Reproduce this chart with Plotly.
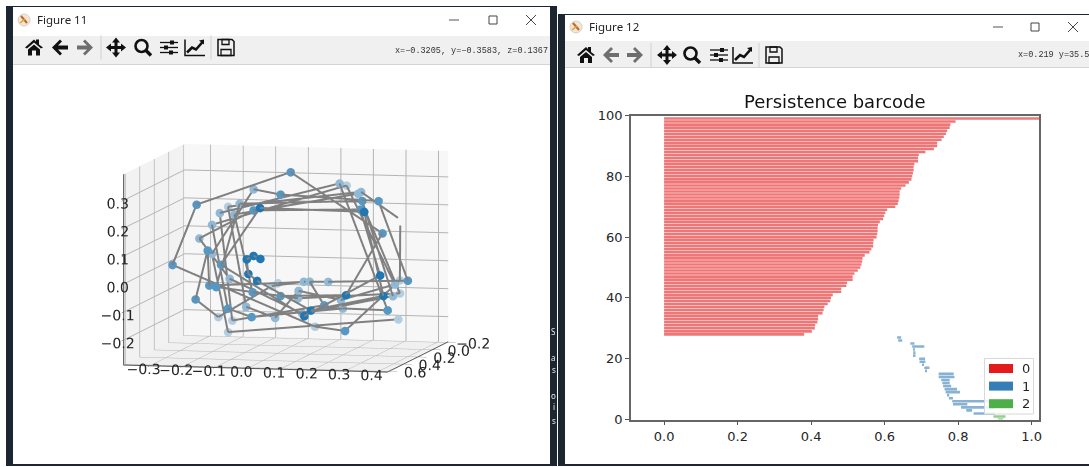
import plotly.graph_objects as go

W, H = 1089, 467

# ---- point cloud of Figure 11 (time-delay embedding, path order)
cloud_x = [0.013,-0.008,-0.029,-0.024,0.003,0.168,0.391,0.332,0.012,-0.157,0.148,0.381,0.271,-0.057,-0.275,-0.182,0.041,0.32,0.277,-0.151,-0.172,0.028,0.308,0.213,-0.167,-0.06,0.026,0.276,0.339,0.057,
           -0.232,-0.306,0.047,0.224,0.308,0.443,0.222,-0.22,-0.131,-0.042,0.03,0.16,0.326,0.144,-0.236,-0.136,-0.063,0.166,0.355,0.156,-0.212,-0.207,0.16,0.064,-0.067,-0.193,-0.198,-0.235,-0.25,-0.086,0.046,0.121,0.417,0.327,0.026,-0.108,-0.236,-0.22,0.303]
cloud_y = [0.5,0.5,0.5,0.5,0.5,0.5,0.5,0.5,0.5,0.28,0.5,0.5,0.28,0.28,0.05,0.05,0.05,0.05,0.28,0.05,0.28,0.05,-0.1,0.05,0.05,0.28,0.28,0.5,0.28,0.28,0.28,0.28,-0.1,0.28,-0.1,0.5,0.05,-0.1,0.05,0.05,0.05,0.05,0.05,-0.1,0.05,0.28,0.28,0.05,0.28,0.05,0.05,-0.1,0.28,0.05,-0.1,0.28,0.28,0.28,-0.1,-0.1,0.05,0.05,0.28,0.28,0.28,0.05,0.05,-0.1,-0.1]
cloud_z = [0.087,0.097,0.084,0.032,0.008,-0.093,-0.034,0.265,0.269,0.032,-0.114,0.039,0.243,0.23,0.093,-0.048,-0.166,-0.095,0.274,0.221,-0.048,-0.112,-0.105,0.268,0.182,-0.063,-0.074,-0.035,0.16,0.37,0.245,0.027,-0.232,-0.193,-0.058,0.241,0.275,0.189,-0.147,-0.184,-0.085,-0.114,-0.053,0.276,0.143,-0.124,-0.152,-0.144,-0.115,0.303,0.186,-0.218,-0.103,-0.051,-0.08,-0.043,0.082,-0.094,-0.207,-0.091,-0.052,-0.05,-0.007,0.275,0.289,0.274,0.039,-0.26,-0.198]

# ---- persistence barcode of Figure 12
h0_rank = list(range(99, 27, -1))
h0_death = [1.10,.793,.779,.777,.770,.767,.761,.755,.743,.743,.734,.711,.693,.691,.691,.681,.679,.679,.677,.675,.673,.666,.657,.645,.641,.641,.640,.638,.636,.629,.607,.602,.599,.596,.587,.582,.581,.581,.580,.578,.570,.569,.569,.564,.559,.546,.540,.539,.537,.534,.527,.518,.513,.513,.498,.496,.482,.482,.459,.454,.452,.445,.436,.434,.431,.419,.419,.417,.411,.410,.402,.381]
h1_rank = list(range(27, 1, -1))
h1_birth = [.634,.637,.670,.675,.678,.678,.679,.694,.695,.704,.708,.710,.747,.747,.754,.757,.759,.763,.766,.772,.775,.784,.786,.808,.822,.842]
h1_death = [.645,.648,.681,.708,.682,.684,.684,.710,.711,.707,.722,.714,.788,.790,.777,.777,.781,.797,.805,.776,.786,.900,.825,.900,.838,.900]
h2_rank = [1, 0]
h2_birth = [.896, .908]
h2_death = [.929, .923]
legend_labels = ["0", "1", "2"]
legend_colors = ["#e41a1c", "#377eb8", "#4daf4a"]

x_ticks = [0.0, 0.2, 0.4, 0.6, 0.8, 1.0]
y_ticks = [0, 20, 40, 60, 80, 100]


def px(x):
    return x / W


def py(y):
    return 1 - y / H


shapes, annos = [], []


def rect(x0, y0, x1, y1, fill, line=None, lw=1):
    shapes.append(dict(type="rect", xref="paper", yref="paper", x0=px(x0), x1=px(x1), y0=py(y0), y1=py(y1),
                       fillcolor=fill, line=dict(color=line or fill, width=lw if line else 0), layer="below"))


def path(pts, fill=None, line=None, lw=1.5, close=True):
    d = "M " + " L ".join(f"{px(a):.5f} {py(b):.5f}" for a, b in pts) + (" Z" if close else "")
    shapes.append(dict(type="path", xref="paper", yref="paper", path=d,
                       fillcolor=fill or "rgba(0,0,0,0)", line=dict(color=line or "rgba(0,0,0,0)", width=lw if line else 0),
                       layer="below"))


def circle(cx, cy, r, fill=None, line=None, lw=2):
    shapes.append(dict(type="circle", xref="paper", yref="paper", x0=px(cx - r), x1=px(cx + r), y0=py(cy - r), y1=py(cy + r),
                       fillcolor=fill or "rgba(0,0,0,0)", line=dict(color=line or "rgba(0,0,0,0)", width=lw if line else 0),
                       layer="below"))


def text(x, y, s, size=11, color="#222", anchor="left", family="Noto Sans"):
    annos.append(dict(xref="paper", yref="paper", x=px(x), y=py(y), text=s, showarrow=False, xanchor=anchor,
                      yanchor="middle", font=dict(size=size, color=color, family=family), borderpad=0, borderwidth=0))


DARK = "#1b2630"
BK = "#111111"
GR = "#6e6e6e"

# desktop behind the windows
rect(6, 6, 550, 466, DARK)
rect(550, 6, 557, 466, DARK)
rect(558, 14, 1089, 466, DARK)


def home(c, y):
    path([(c-9, y), (c, y-8), (c+2, y-6), (c+2, y-8), (c+5, y-8), (c+5, y-3), (c+9, y), (c+7, y+1), (c, y-5), (c-7, y+1)], fill=BK)
    path([(c-6, y+2), (c, y-3), (c+6, y+2), (c+6, y+8), (c+2, y+8), (c+2, y+3), (c-2, y+3), (c-2, y+8), (c-6, y+8)], fill=BK)


def arrow(c, y, d, col):
    path([(c-8*d, y), (c, y-8), (c+2*d, y-6), (c-2*d, y-2), (c+8*d, y-2), (c+8*d, y+2), (c-2*d, y+2), (c+2*d, y+6), (c, y+8)], fill=col)


def move(c, y):
    path([(c-1.5, y-5), (c-4, y-5), (c, y-10), (c+4, y-5), (c+1.5, y-5), (c+1.5, y-1.5), (c+5, y-1.5), (c+5, y-4), (c+10, y),
          (c+5, y+4), (c+5, y+1.5), (c+1.5, y+1.5), (c+1.5, y+5), (c+4, y+5), (c, y+10), (c-4, y+5), (c-1.5, y+5), (c-1.5, y+1.5),
          (c-5, y+1.5), (c-5, y+4), (c-10, y), (c-5, y-4), (c-5, y-1.5), (c-1.5, y-1.5)], fill=BK)


def magnifier(c, y):
    circle(c-1.5, y-1.5, 6, line=BK, lw=2.6)
    path([(c+3, y+3), (c+8, y+8)], line=BK, lw=3.4, close=False)


def sliders(c, y):
    for dy, k in ((-5, 3), (0, -3), (5, 2)):
        path([(c-9, y+dy), (c+9, y+dy)], line=BK, lw=1.3, close=False)
        rect(c+k-2, y+dy-2, c+k+2, y+dy+2, BK)


def chart(c, y):
    path([(c-10, y-8), (c-10, y+8), (c+10, y+8)], line=BK, lw=1.5, close=False)
    path([(c-8, y+5), (c-3, y), (c+1, y+2), (c+8, y-6)], line=BK, lw=2.6, close=False)
    path([(c+4, y-7), (c+9, y-8), (c+9, y-3)], fill=BK)


def save(c, y):
    path([(c-8, y-8), (c+6, y-8), (c+8, y-6), (c+8, y+8), (c-8, y+8)], line=BK, lw=1.5)
    path([(c-4, y-8), (c-4, y-3), (c+3, y-3), (c+3, y-8)], line=BK, lw=1.3)
    path([(c-5, y+8), (c-5, y+2), (c+5, y+2), (c+5, y+8)], line=BK, lw=1.3)


def logo(c, y):
    circle(c, y, 6, fill="#f3e7d3", line="#d8d0c4", lw=1)
    path([(c-3, y-4), (c+3, y+3)], line="#c0662a", lw=2, close=False)
    path([(c-4, y+3), (c+1, y-1)], line="#d9a23a", lw=1.5, close=False)


def window(x0, y0, x1, y1, title, tb, tx, btn, back_col, ico, ic_y, readout, rx, ry, tool_top, tool_bot):
    rect(x0, y0, x1, y1, "#ffffff")
    rect(x0, tool_top, x1, tool_bot, "#f0f0f0")
    rect(x0, tool_bot, x1, tool_bot + 1, "#d4d4d4")
    logo(tx - 13, tb)
    text(tx, tb, title, size=11.5, color="#222")
    a, b, c = btn
    path([(a-5, tb), (a+5, tb)], line="#555", lw=1, close=False)
    rect(b-4, tb-4, b+4, tb+4, "#ffffff", line="#444", lw=1)
    path([(c-5, tb-5), (c+5, tb+5)], line="#444", lw=1, close=False)
    path([(c-5, tb+5), (c+5, tb-5)], line="#444", lw=1, close=False)
    home(ico[0], ic_y)
    arrow(ico[1], ic_y, 1, back_col)
    arrow(ico[2], ic_y, -1, GR)
    move(ico[3], ic_y)
    magnifier(ico[4], ic_y)
    sliders(ico[5], ic_y)
    chart(ico[6], ic_y)
    save(ico[7], ic_y)
    for sx in (ico[2] + 16, ico[7] - 15):
        path([(sx, ic_y-12), (sx, ic_y+12)], line="#d0d0d0", lw=1, close=False)
    text(rx, ry, readout, size=8.5, color="#333", anchor="right", family="Liberation Mono")


window(13, 7, 550, 464, "Figure 11", 20, 37, (454, 493, 531), BK, (34, 60, 85, 116, 143, 169, 195, 226), 47.5,
       "x=\u22120.3205, y=\u22120.3583, z=0.1367", 548, 51, 36, 64)
window(565, 15, 1089, 464, "Figure 12", 27, 589, (998, 1035, 1073), GR, (586, 611, 635, 667, 692, 719, 743, 774), 55,
       "x=0.219 y=35.5", 1089, 55, 41, 67)

# stray letters on the strip between the windows
for yy, ch in zip((331, 357, 369, 395, 406, 420), "Sasois"):
    text(553.5, yy, ch, size=8, color="#e8e8e8", anchor="center")

fig = go.Figure()

# ---- barcode
for rank, left, right, col in ((h0_rank, [0.0] * len(h0_rank), h0_death, legend_colors[0]),
                               (h1_rank, h1_birth, h1_death, legend_colors[1]),
                               (h2_rank, h2_birth, h2_death, legend_colors[2])):
    fig.add_trace(go.Bar(orientation="h", y=rank, base=left, x=[b - a for a, b in zip(left, right)],
                         width=0.85, marker=dict(color=col, opacity=0.6, line=dict(width=0)),
                         showlegend=False, xaxis="x", yaxis="y", hoverinfo="skip"))

# ---- legend box drawn over the bars
shapes_top = []
def top_rect(x0, y0, x1, y1, fill, line=None):
    shapes_top.append(dict(type="rect", xref="paper", yref="paper", x0=px(x0), x1=px(x1), y0=py(y0), y1=py(y1),
                           fillcolor=fill, line=dict(color=line or fill, width=1 if line else 0), layer="above"))
top_rect(984.5, 358.5, 1033.5, 414, "rgba(255,255,255,0.85)", "#d8d8d8")
for i, (lab, col) in enumerate(zip(legend_labels, legend_colors)):
    yc = 368.5 + i * 17.6
    top_rect(989, yc - 4.5, 1013, yc + 4.5, col)
    text(1026, yc, lab, size=13, color="#262626", anchor="center", family="DejaVu Sans")
text(834.5, 102, "Persistence barcode", size=18, color="#111", anchor="center", family="DejaVu Sans")

# ---- 3D cloud: nearer points are drawn darker (depth shading), as solid colours


def shade_of(v):
    a = 0.3 + 0.7 * (v + 0.1) / 0.6
    return "rgb(%d,%d,%d)" % tuple(round(c * a + 244 * (1 - a)) for c in (31, 119, 180))


fig.add_trace(go.Scatter3d(x=cloud_x, y=cloud_y, z=cloud_z, mode="lines+markers",
                           line=dict(color="#808080", width=4),
                           marker=dict(size=5, color=[shade_of(v) for v in cloud_y], line=dict(width=0)),
                           scene="scene", showlegend=False, hoverinfo="skip"))


def axis3d(rng, dtick, bg):
    return dict(range=rng, dtick=dtick, tickformat=".1f", showbackground=True, backgroundcolor=bg,
                gridcolor="#b4b4b4", gridwidth=2, zeroline=False, showline=True, linecolor="#555555", linewidth=2,
                ticks="outside", ticklen=9, tickcolor="#444444", showspikes=False, title=dict(text=""),
                tickangle=0, tickfont=dict(size=13, color="#262626", family="DejaVu Sans"))


K = 1.65
fig.update_layout(
    width=W, height=H, margin=dict(l=0, r=0, t=0, b=0, pad=0, autoexpand=False), autosize=False,
    paper_bgcolor="#ffffff", plot_bgcolor="#ffffff",
    barmode="overlay",
    shapes=shapes + shapes_top, annotations=annos,
    xaxis=dict(domain=[px(631), px(1039)], range=[-0.09, 1.02], tickvals=x_ticks, tickformat=".1f", automargin=False,
               showgrid=False, zeroline=False, showline=True, mirror=True, linecolor="#666666", linewidth=1.5,
               ticks="outside", ticklen=4, tickcolor="#555555",
               tickfont=dict(size=13, color="#262626", family="DejaVu Sans")),
    yaxis=dict(domain=[py(419.5), py(115.5)], range=[0, 100], tickvals=y_ticks, automargin=False,
               showgrid=False, zeroline=False, showline=True, mirror=True, linecolor="#666666", linewidth=1.5,
               ticks="outside", ticklen=4, tickcolor="#555555",
               tickfont=dict(size=13, color="#262626", family="DejaVu Sans")),
    scene=dict(
        domain=dict(x=[px(38), px(534)], y=[py(422), py(94)]),
        bgcolor="#ffffff",
        aspectmode="manual", aspectratio=dict(x=K, y=K, z=0.71 * K),
        camera=dict(projection=dict(type="orthographic"),
                    eye=dict(x=0.37, y=-1.6, z=0.19), up=dict(x=0, y=0, z=1), center=dict(x=0, y=0, z=0)),
        xaxis=axis3d([-0.38, 0.43], 0.1, "#f2f2f2"),
        yaxis=axis3d([0.62, -0.22], 0.2, "#f7f7f7"),
        zaxis=axis3d([-0.29, 0.393], 0.1, "#f0f0f0"),
    ),
)

fig.write_html("out.html", config={"displayModeBar": False},
               post_script="document.body.style.margin='0';document.documentElement.style.overflow='hidden';")
